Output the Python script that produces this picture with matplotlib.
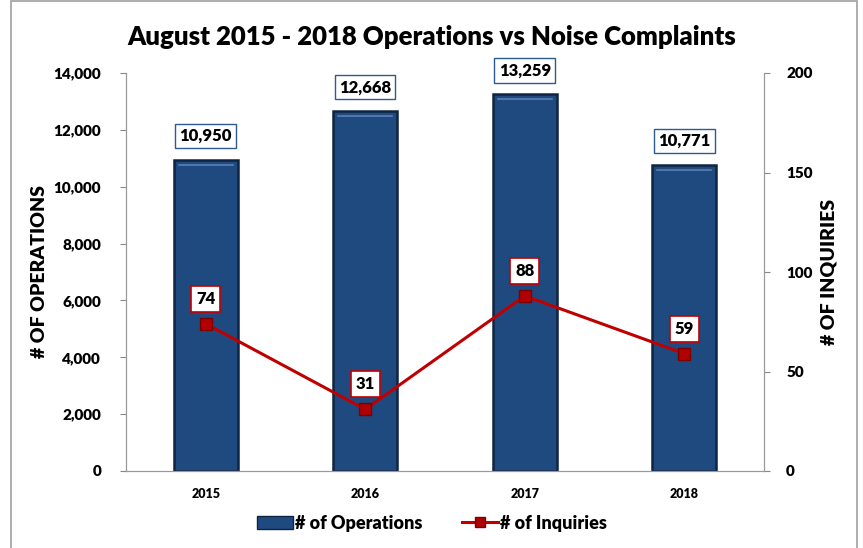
import matplotlib.pyplot as plt
from matplotlib.patches import Rectangle, Patch
from matplotlib.lines import Line2D

years = ["2015", "2016", "2017", "2018"]
operations = [10950, 12668, 13259, 10771]
inquiries = [74, 31, 88, 59]

BAR_BLUE = "#1F4A80"
BAR_EDGE = "#0E2440"
LINE_RED = "#C00000"

plt.rcParams['font.family'] = ['Lato', 'DejaVu Sans']
plt.rcParams['font.weight'] = 'heavy'

fig = plt.figure(figsize=(8.63, 5.48), dpi=100)
ax = fig.add_axes([126 / 863, 77 / 548, 638 / 863, 398 / 548])
ax2 = ax.twinx()

x = range(len(years))
bars = ax.bar(x, operations, width=0.4, color=BAR_BLUE,
              edgecolor=BAR_EDGE, linewidth=1.8, zorder=2)
# light bevel line near the top of every bar
for b in bars:
    ax.plot([b.get_x() + 0.03, b.get_x() + b.get_width() - 0.03],
            [b.get_height() - 180, b.get_height() - 180],
            color="#5B80B5", linewidth=1.2, zorder=3)

for xi, v in zip(x, operations):
    ax.annotate(f"{v:,}", (xi, v), xytext=(0, 17), textcoords="offset points",
                ha="center", va="center", fontsize=12, fontweight="heavy",
                bbox=dict(boxstyle="square,pad=0.25", fc="white", ec="#2E5A94", lw=1),
                zorder=5)

ax2.plot(x, inquiries, color=LINE_RED, linewidth=2.2, marker="s", markersize=8,
         markerfacecolor="#B00000", markeredgecolor="#7A0000", zorder=4)
for xi, v in zip(x, inquiries):
    ax2.annotate(str(v), (xi, v), xytext=(0, 18), textcoords="offset points",
                 ha="center", va="center", fontsize=12, fontweight="heavy",
                 bbox=dict(boxstyle="square,pad=0.3", fc="white", ec=LINE_RED, lw=1.2),
                 zorder=6)
ax2.set_zorder(ax.get_zorder() + 1)
ax2.patch.set_visible(False)

ax.set_xlim(-0.5, 3.5)
ax.set_ylim(0, 14000)
ax.set_yticks(range(0, 14001, 2000))
ax.set_yticklabels([f"{t:,}" for t in range(0, 14001, 2000)])
ax2.set_ylim(0, 200)
ax2.set_yticks(range(0, 201, 50))

ax.set_xticks(list(x))
ax.set_xticklabels(years, fontsize=9, fontweight="heavy")
ax.tick_params(axis="x", length=0, pad=12)
ax.tick_params(axis="y", labelsize=11, length=4, pad=14, color="#888888")
ax2.tick_params(axis="y", labelsize=11, length=4, pad=12, color="#888888")

for a in (ax, ax2):
    for s in a.spines.values():
        s.set_color("#999999")
    a.spines["top"].set_visible(False)

ax.set_ylabel("# OF OPERATIONS", fontsize=14, fontweight="heavy")
ax2.set_ylabel("# OF INQUIRIES", fontsize=14, fontweight="heavy", rotation=90)
ax.yaxis.set_label_coords(-(126 - 48) / 638, 0.5)
ax2.yaxis.set_label_coords(1 + (820 - 764) / 638, 0.5)

fig.text(0.5, 1 - 37 / 548, "August 2015 - 2018 Operations vs Noise Complaints",
         ha="center", va="center", fontsize=18.5, fontweight="heavy")

handles = [Patch(facecolor=BAR_BLUE, edgecolor=BAR_EDGE, label="# of Operations"),
           Line2D([0], [0], color=LINE_RED, linewidth=2.2, marker="s", markersize=7,
                  markerfacecolor="#B00000", markeredgecolor="#7A0000",
                  label="# of Inquiries")]
fig.legend(handles=handles, loc="center", bbox_to_anchor=(0.5, 1 - 523 / 548),
           ncol=2, frameon=False, fontsize=13, handlelength=2.0,
           handletextpad=0.1, columnspacing=2.2)

fig.patches.append(Rectangle((11 / 863, -0.05), 846 / 863, 1.05 - 1.5 / 548,
                             transform=fig.transFigure, fill=False,
                             edgecolor="#A0A0A0", linewidth=1.2))

fig.savefig("out.png", dpi=100)
